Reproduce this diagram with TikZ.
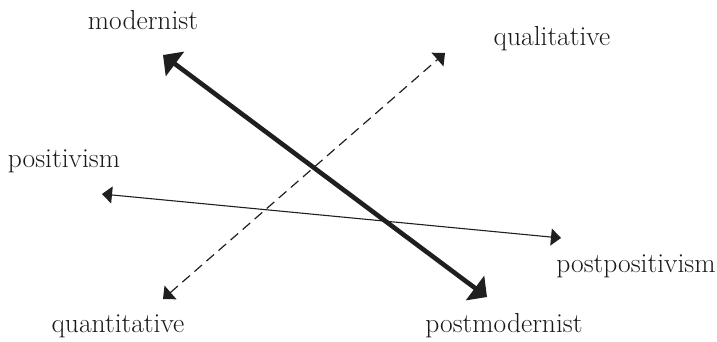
\documentclass[tikz,border=0pt]{standalone}
\usepackage{fontspec}
\setmainfont{Latin Modern Roman}
\usetikzlibrary{arrows.meta}
\begin{document}
\begin{tikzpicture}[x=1pt,y=-1pt,
  lbl/.style={anchor=base,inner sep=0pt,font=\fontsize{27.5}{32}\selectfont,text=black!90},
  thickarrow/.style={line width=4.6pt,draw=black!88,{Triangle[length=15pt,width=30pt]}-{Triangle[length=15pt,width=30pt]}},
  thinarrow/.style={line width=1.1pt,draw=black!88,{Triangle[length=10pt,width=17pt]}-{Triangle[length=10pt,width=17pt]}},
  dasharrow/.style={line width=1.2pt,draw=black!88,dash pattern=on 10pt off 6pt,{Triangle[length=10pt,width=18pt]}-{Triangle[length=10pt,width=18pt]}}]
\useasboundingbox (0,0) rectangle (717,341);
\node[lbl] (modernist) at (143,29) {modernist};
\node[lbl] (qualitative) at (552,45) {qualitative};
\node[lbl] (positivism) at (64,167) {positivism};
\node[lbl] (postpositivism) at (636,272) {postpositivism};
\node[lbl] (quantitative) at (118,332) {quantitative};
\node[lbl] (postmodernist) at (504,332) {postmodernist};
\coordinate (mA) at (163,55);
\coordinate (mB) at (487,297);
\coordinate (qA) at (445,53);
\coordinate (qB) at (163,299);
\coordinate (pA) at (102,194);
\coordinate (pB) at (561,238);
\draw[dasharrow] (qB) -- (qA);
\draw[thinarrow] (pA) -- (pB);
\draw[thickarrow] (mA) -- (mB);
\end{tikzpicture}
\end{document}
